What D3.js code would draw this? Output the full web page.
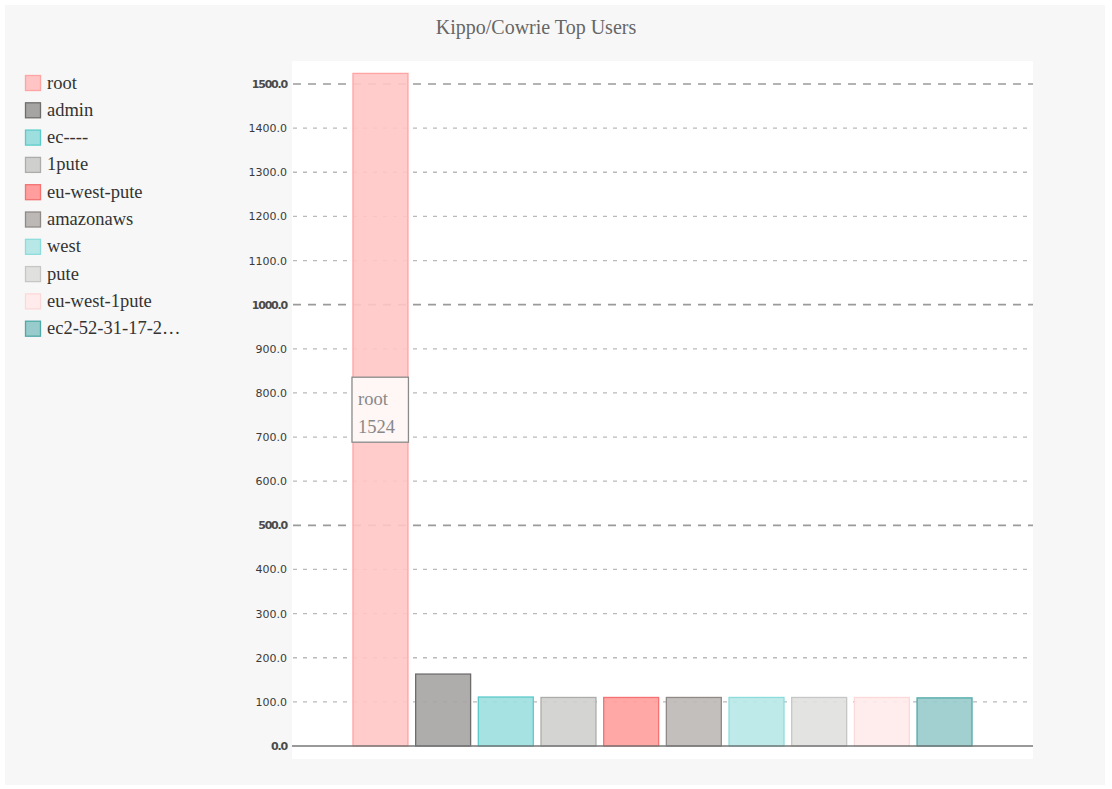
<!DOCTYPE html>
<html>
<head>
<meta charset="utf-8">
<script src="https://cdn.jsdelivr.net/npm/d3@7"></script>
<style>
  html, body { margin: 0; padding: 0; background: #fff; }
  svg { display: block; }
</style>
</head>
<body>
<svg id="chart" width="1112" height="789"></svg>
<script>
// ---- data ----
const users = ["root", "admin", "ec----", "1pute", "eu-west-pute", "amazonaws", "west", "pute", "eu-west-1pute", "ec2-52-31-17-2…"];
const counts = [1524, 163, 111, 110, 110, 110, 110, 110, 110, 109];
const fills = ["#ffc5c5", "#a5a4a3", "#9ddfdf", "#cfd0ce", "#ff9e9c", "#bcb8b5", "#b7e8e7", "#e0e1df", "#ffebeb", "#98cbcb"];
const strokes = ["#ffa3a3", "#6f6d6c", "#5ccaca", "#abadaa", "#f47272", "#8f8a87", "#8ddcdc", "#c6c7c5", "#fbd9d9", "#4ea9a7"];
const yTicks = [0, 100, 200, 300, 400, 500, 600, 700, 800, 900, 1000, 1100, 1200, 1300, 1400, 1500];
const majorTicks = [0, 500, 1000, 1500];
const title = "Kippo/Cowrie Top Users";

// ---- layout ----
const svg = d3.select("#chart");
svg.append("rect").attr("x", 5).attr("y", 5).attr("width", 1100).attr("height", 780).attr("fill", "#f7f7f7");

const plot = { left: 292, right: 1033, top: 61, bottom: 759 };
svg.append("rect").attr("x", plot.left).attr("y", plot.top)
  .attr("width", plot.right - plot.left).attr("height", plot.bottom - plot.top).attr("fill", "#fff");

const x = d3.scaleBand().domain(users).range([plot.left, plot.right]).paddingInner(0.107).paddingOuter(0.965);
const y = d3.scaleLinear().domain([0, 1500]).range([746, 84]);

svg.append("text").attr("x", 536).attr("y", 34).attr("text-anchor", "middle")
  .attr("font-family", "Liberation Serif, Times New Roman, serif").attr("font-size", 20)
  .attr("fill", "#666").text(title);

// grid lines
const grid = svg.append("g");
grid.selectAll("line").data(yTicks.filter(d => d !== 0)).join("line")
  .attr("x1", plot.left + 1).attr("x2", plot.right)
  .attr("y1", d => y(d)).attr("y2", d => y(d))
  .attr("stroke", d => majorTicks.includes(d) ? "#9a9a9a" : "#b9b9b9")
  .attr("stroke-width", d => majorTicks.includes(d) ? 1.6 : 1.3)
  .attr("stroke-dasharray", d => majorTicks.includes(d) ? "8,7" : "4,6");

// bars
svg.append("g").selectAll("rect").data(users).join("rect")
  .attr("x", d => x(d) + 0.5)
  .attr("y", (d, i) => y(counts[i]))
  .attr("width", x.bandwidth() - 1)
  .attr("height", (d, i) => y(0) - y(counts[i]))
  .attr("fill", (d, i) => fills[i])
  .attr("fill-opacity", 0.9)
  .attr("stroke", (d, i) => strokes[i])
  .attr("stroke-width", 1.3);

// baseline
svg.append("line").attr("x1", plot.left).attr("x2", plot.right)
  .attr("y1", y(0)).attr("y2", y(0)).attr("stroke", "#777").attr("stroke-width", 1.5);

// y axis labels
const yAxis = d3.axisLeft(y).tickValues(yTicks).tickFormat(d3.format(".1f")).tickSize(0).tickPadding(0);
const ag = svg.append("g").attr("transform", `translate(${plot.left - 5},0)`).call(yAxis);
ag.select(".domain").remove();
ag.selectAll("text")
  .attr("font-family", "DejaVu Sans, Verdana, sans-serif")
  .attr("font-size", 11)
  .attr("fill", d => majorTicks.includes(d) ? "#4a4a4a" : "#3a3a3a")
  .attr("font-weight", d => majorTicks.includes(d) ? "bold" : "normal")
  .attr("letter-spacing", d => majorTicks.includes(d) ? "-1.2" : "0");

// legend
const lg = svg.append("g").attr("transform", "translate(25,75)");
const rows = lg.selectAll("g").data(users).join("g")
  .attr("transform", (d, i) => `translate(0,${i * 27.3})`);
rows.append("rect").attr("x", 0.5).attr("y", 0.5).attr("width", 15).attr("height", 15)
  .attr("fill", (d, i) => fills[i]).attr("stroke", (d, i) => strokes[i]).attr("stroke-width", 1.3);
rows.append("text").attr("x", 22).attr("y", 13.5)
  .attr("font-family", "Liberation Serif, Times New Roman, serif").attr("font-size", 18.5)
  .attr("fill", "#333").text(d => d);

// tooltip on root bar
const tipUser = users[0], tipVal = counts[0];
const tipH = 65;
const tipCy = (y(tipVal) + y(0)) / 2;
const tip = svg.append("g").attr("transform", `translate(${x(tipUser) - 0.5},${tipCy - tipH / 2})`);
tip.append("rect").attr("x", 0).attr("y", 0).attr("width", x.bandwidth() + 0.5).attr("height", tipH)
  .attr("fill", "#fff6f6").attr("stroke", "#8a8a8a").attr("stroke-width", 1.3);
tip.append("text").attr("x", 6).attr("y", 28).attr("font-family", "Liberation Serif, Times New Roman, serif")
  .attr("font-size", 18.5).attr("fill", "#888").text(tipUser);
tip.append("text").attr("x", 6).attr("y", 56).attr("font-family", "Liberation Serif, Times New Roman, serif")
  .attr("font-size", 18.5).attr("fill", "#888").text(tipVal);
</script>
</body>
</html>
